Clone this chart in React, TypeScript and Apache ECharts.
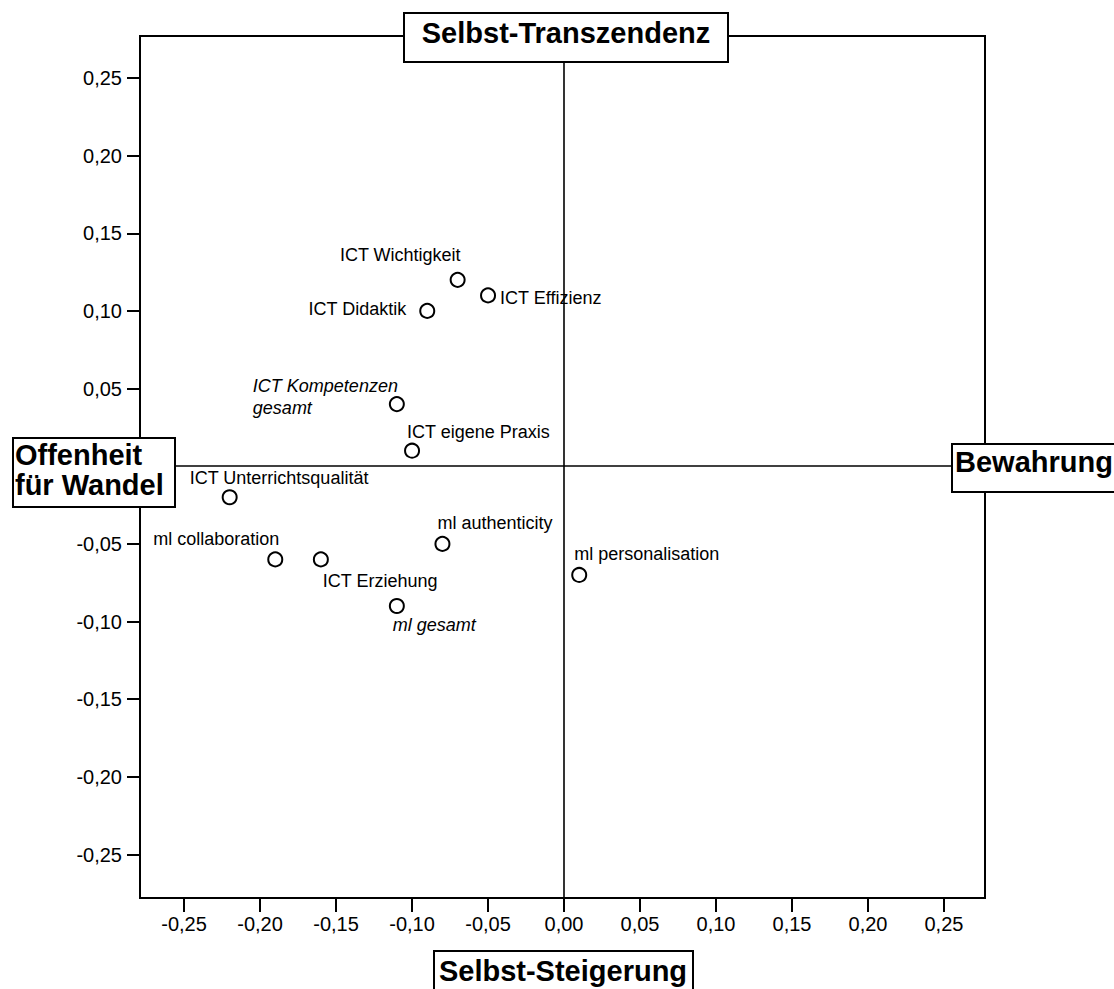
import React, { useEffect, useRef } from "react";
import * as echarts from "echarts";

// ---- data ----
const pointNames = [
  "ICT Wichtigkeit",
  "ICT Effizienz",
  "ICT Didaktik",
  "ICT Kompetenzen\ngesamt",
  "ICT eigene Praxis",
  "ICT Unterrichtsqualität",
  "ml collaboration",
  "ICT Erziehung",
  "ml authenticity",
  "ml gesamt",
  "ml personalisation",
];
const xValues = [-0.07, -0.05, -0.09, -0.11, -0.1, -0.22, -0.19, -0.16, -0.08, -0.11, 0.01];
const yValues = [0.12, 0.11, 0.1, 0.04, 0.01, -0.02, -0.06, -0.06, -0.05, -0.09, -0.07];
const italicNames = ["ICT Kompetenzen\ngesamt", "ml gesamt"];
const tickValues = [-0.25, -0.2, -0.15, -0.1, -0.05, 0, 0.05, 0.1, 0.15, 0.2, 0.25];
// the y label "0,00" is hidden behind the "Offenheit für Wandel" box in the reference
const yLabelValues = [-0.25, -0.2, -0.15, -0.1, -0.05, 0.05, 0.1, 0.15, 0.2, 0.25];
const dimensionTop = "Selbst-Transzendenz";
const dimensionBottom = "Selbst-Steigerung";
const dimensionLeft = ["Offenheit", "für Wandel"];
const dimensionRight = "Bewahrung";

// ---- label placement (style) ----
const labelPlacement: Record<string, { align: string; dx: number; dy: number }> = {
  "ICT Wichtigkeit": { align: "right", dx: 3, dy: -25 },
  "ICT Effizienz": { align: "left", dx: 12, dy: 3 },
  "ICT Didaktik": { align: "right", dx: -21, dy: -2 },
  "ICT Kompetenzen\ngesamt": { align: "left", dx: -144, dy: -7 },
  "ICT eigene Praxis": { align: "left", dx: -5, dy: -19 },
  "ICT Unterrichtsqualität": { align: "left", dx: -40, dy: -19 },
  "ml collaboration": { align: "right", dx: 4, dy: -20 },
  "ICT Erziehung": { align: "left", dx: 2, dy: 22 },
  "ml authenticity": { align: "left", dx: -5, dy: -21 },
  "ml gesamt": { align: "left", dx: -4, dy: 19 },
  "ml personalisation": { align: "left", dx: -5, dy: -21 },
};

const FONT = '"Liberation Sans", Arial, Helvetica, sans-serif';
const fmt = (v: number) => v.toFixed(2).replace(".", ",");

export default function App() {
  const ref = useRef<HTMLDivElement>(null);

  useEffect(() => {
    document.body.style.margin = "0";
    if (!ref.current) return;
    const chart = echarts.init(ref.current, null, { renderer: "svg" });

    const data = pointNames.map((name, i) => {
      const p = labelPlacement[name];
      return {
        name,
        value: [xValues[i], yValues[i]],
        label: {
          show: true,
          formatter: name,
          position: "inside",
          align: p.align,
          verticalAlign: "middle",
          offset: [p.dx, p.dy],
          fontStyle: italicNames.includes(name) ? "italic" : "normal",
          lineHeight: 22,
        },
      };
    });

    const boxStyle = { fill: "#fff", stroke: "#000", lineWidth: 2 };
    const boldFont = `bold 29px ${FONT}`;

    chart.setOption({
      animation: false,
      backgroundColor: "#fff",
      grid: {
        left: 140,
        right: 129,
        top: 36,
        bottom: 91,
        show: true,
        borderColor: "#000",
        borderWidth: 2,
        backgroundColor: "transparent",
      },
      xAxis: {
        type: "value",
        min: -0.279,
        max: 0.277,
        position: "bottom",
        axisLine: { show: true, onZero: false, lineStyle: { color: "#000", width: 2 } },
        axisTick: {
          show: true,
          customValues: tickValues,
          length: 14,
          inside: false,
          lineStyle: { color: "#000", width: 2 },
        },
        axisLabel: {
          customValues: tickValues,
          formatter: fmt,
          color: "#000",
          fontSize: 20,
          fontFamily: FONT,
          margin: 16,
        },
        splitLine: { show: false },
      },
      yAxis: {
        type: "value",
        min: -0.278,
        max: 0.277,
        position: "left",
        axisLine: { show: true, onZero: false, lineStyle: { color: "#000", width: 2 } },
        axisTick: {
          show: true,
          customValues: tickValues,
          length: 13,
          inside: false,
          lineStyle: { color: "#000", width: 2 },
        },
        axisLabel: {
          customValues: yLabelValues,
          formatter: fmt,
          color: "#000",
          fontSize: 20,
          fontFamily: FONT,
          margin: 18,
        },
        splitLine: { show: false },
      },
      series: [
        {
          type: "scatter",
          symbol: "circle",
          symbolSize: 14,
          itemStyle: { color: "#fff", borderColor: "#000", borderWidth: 2, opacity: 1 },
          label: { color: "#000", fontSize: 18, fontFamily: FONT },
          emphasis: { disabled: true },
          data,
          markLine: {
            silent: true,
            symbol: ["none", "none"],
            label: { show: false },
            lineStyle: { color: "#000", width: 1.6, type: "solid" },
            emphasis: { disabled: true },
            data: [{ xAxis: 0 }, { yAxis: 0 }],
          },
          z: 3,
        },
      ],
      graphic: [
        {
          type: "group",
          z: 100,
          children: [
            { type: "rect", shape: { x: 404, y: 13, width: 324, height: 49 }, style: boxStyle, z: 100 },
            {
              type: "text",
              x: 566,
              y: 33,
              z: 101,
              style: { text: dimensionTop, font: boldFont, fill: "#000", textAlign: "center", textVerticalAlign: "middle" },
            },
            { type: "rect", shape: { x: 434, y: 951, width: 259, height: 46 }, style: boxStyle, z: 100 },
            {
              type: "text",
              x: 563,
              y: 971,
              z: 101,
              style: { text: dimensionBottom, font: boldFont, fill: "#000", textAlign: "center", textVerticalAlign: "middle" },
            },
            { type: "rect", shape: { x: 13, y: 438, width: 162, height: 69 }, style: boxStyle, z: 100 },
            {
              type: "text",
              x: 15,
              y: 455,
              z: 101,
              style: { text: dimensionLeft[0], font: boldFont, fill: "#000", textAlign: "left", textVerticalAlign: "middle" },
            },
            {
              type: "text",
              x: 15,
              y: 485,
              z: 101,
              style: { text: dimensionLeft[1], font: boldFont, fill: "#000", textAlign: "left", textVerticalAlign: "middle" },
            },
            { type: "rect", shape: { x: 952, y: 444, width: 164, height: 48 }, style: boxStyle, z: 100 },
            {
              type: "text",
              x: 955,
              y: 462,
              z: 101,
              style: { text: dimensionRight, font: boldFont, fill: "#000", textAlign: "left", textVerticalAlign: "middle" },
            },
          ],
        },
      ],
    });

    return () => chart.dispose();
  }, []);

  return <div ref={ref} style={{ width: 1114, height: 989 }} />;
}
